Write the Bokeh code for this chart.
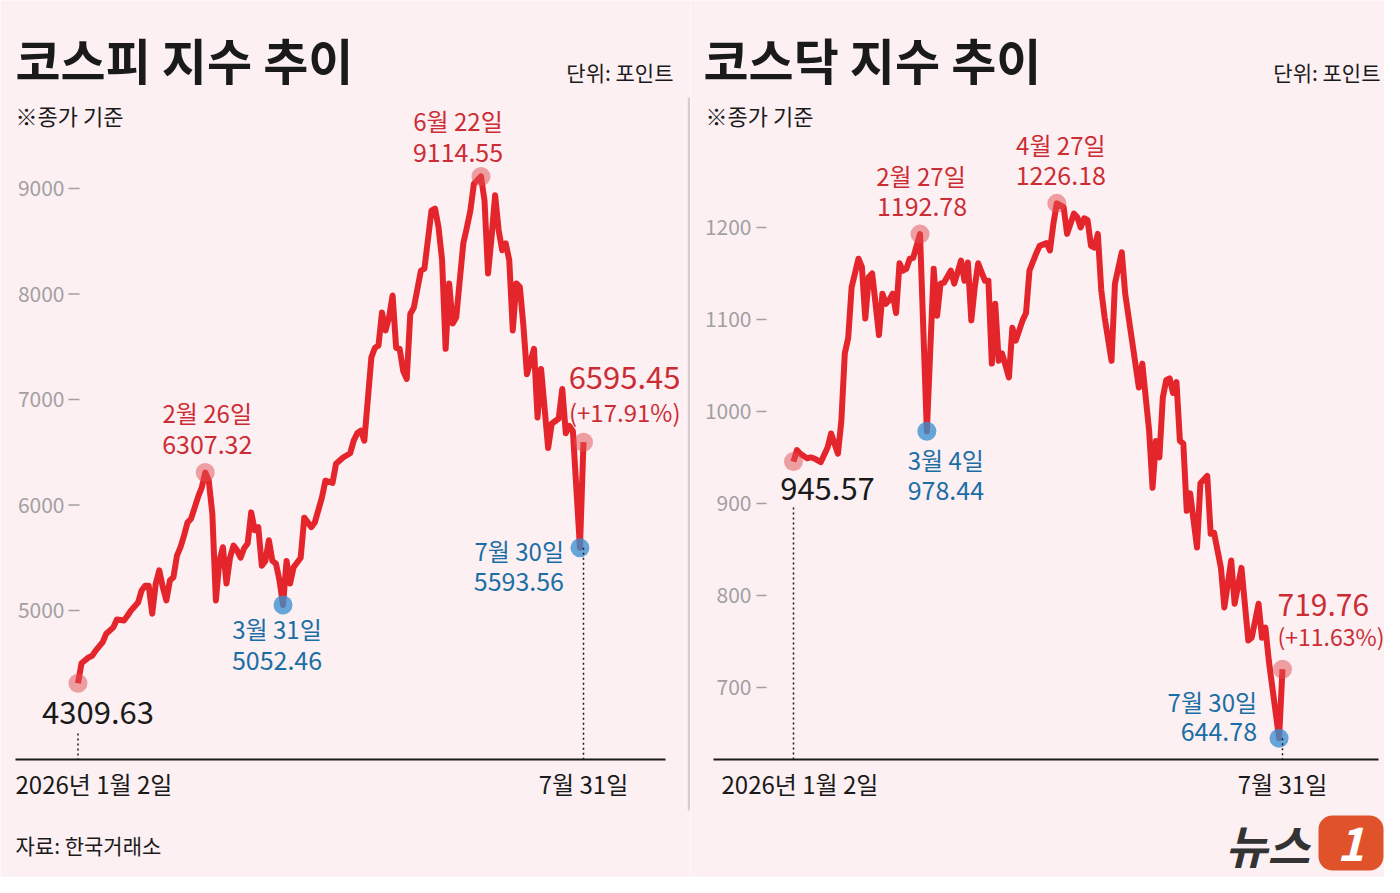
from bokeh.plotting import figure
from bokeh.models import Label, Range1d, ColumnDataSource, BoxAnnotation
from bokeh.layouts import row
from bokeh.embed import file_html
from bokeh.resources import INLINE

# trading-day number (0 = 2026-01-02, 143 = 2026-07-31) and closing index
kospi_day = [0, 1, 3, 4, 5, 7, 8, 10, 11, 13, 14, 15, 17, 18, 19, 20, 21, 22, 23, 24,
             25, 26, 27, 28, 29, 30, 31, 32, 33, 34, 35, 36, 37, 38, 39, 40, 41, 42, 43, 44,
             45, 46, 47, 48, 49, 50, 51, 52, 53, 54, 55, 56, 57, 58, 59, 60, 61, 63, 64, 66,
             67, 69, 70, 72, 73, 75, 77, 78, 79, 80, 81, 83, 84, 85, 86, 87, 88, 89, 90, 91,
             92, 93, 94, 95, 97, 98, 100, 101, 102, 103, 104, 105, 106, 107, 109, 110, 111, 112, 113, 114,
             115, 116, 117, 118, 119, 120, 121, 122, 123, 124, 125, 126, 127, 129, 130, 131, 133, 134, 136, 137,
             138, 139, 140, 142, 143]
kospi_close = [4309.63, 4500, 4555, 4570, 4620, 4700, 4780, 4840, 4915, 4905, 4950, 5000, 5075, 5190, 5235, 5235, 4970, 5255, 5380, 5220,
               5095, 5285, 5315, 5520, 5600, 5710, 5835, 5870, 5975, 6080, 6165, 6307.32, 6230, 5920, 5095, 5470, 5600, 5255, 5500, 5615,
               5570, 5500, 5590, 5635, 5930, 5760, 5790, 5425, 5470, 5665, 5470, 5445, 5285, 5052.46, 5470, 5255, 5410, 5500, 5880, 5790,
               5835, 6070, 6230, 6210, 6390, 6450, 6490, 6610, 6680, 6705, 6610, 7400, 7490, 7510, 7825, 7655, 7780, 7985, 7490, 7480,
               7270, 7195, 7810, 7870, 8220, 8240, 8790, 8810, 8630, 8320, 7480, 8100, 7720, 7780, 8480, 8630, 8790, 9045, 9080, 9114.55,
               8885, 8195, 8540, 8935, 8605, 8415, 8480, 8320, 7655, 8100, 8065, 7700, 7240, 7480, 6830, 7290, 6540, 6770, 6820, 7100,
               6680, 6750, 6700, 5593.56, 6595.45]

kosdaq_day = [0, 1, 2, 4, 5, 6, 8, 10, 11, 13, 14, 15, 16, 17, 19, 20, 21, 22, 23, 24,
              25, 26, 27, 28, 29, 30, 31, 32, 33, 34, 35, 36, 37, 39, 41, 42, 43, 44, 46, 47,
              49, 50, 51, 52, 53, 54, 56, 57, 58, 59, 60, 61, 63, 64, 65, 67, 68, 69, 71, 72,
              74, 75, 76, 77, 79, 80, 82, 83, 84, 85, 86, 87, 88, 89, 90, 91, 93, 94, 96, 97,
              99, 101, 102, 104, 105, 106, 107, 108, 109, 110, 111, 112, 113, 114, 115, 116, 118, 119, 121, 122,
              123, 125, 126, 128, 129, 131, 133, 134, 136, 137, 138, 139, 142, 143]
kosdaq_close = [945.57, 958, 954, 949, 950, 949, 945, 961, 976, 954, 990, 1063, 1080, 1135, 1166, 1157, 1101, 1146, 1150, 1117,
                1083, 1128, 1117, 1121, 1128, 1107, 1161, 1153, 1155, 1166, 1167, 1180, 1192.78, 978.44, 1155, 1104, 1139, 1140, 1153, 1139,
                1164, 1142, 1162, 1099, 1135, 1161, 1142, 1142, 1052, 1117, 1055, 1063, 1037, 1091, 1077, 1099, 1107, 1153, 1172, 1180,
                1183, 1175, 1204, 1226.18, 1222, 1193, 1215, 1211, 1200, 1210, 1208, 1180, 1178, 1193, 1132, 1102, 1055, 1139, 1173, 1128,
                1077, 1026, 1052, 979, 917, 968, 950, 1015, 1034, 1036, 1020, 1032, 968, 965, 892, 911, 852, 922, 930, 867,
                868, 830, 787, 838, 791, 830, 751, 754, 791, 754, 765, 729, 644.78, 719.76]

kospi_yticks = [5000, 6000, 7000, 8000, 9000]
kosdaq_yticks = [700, 800, 900, 1000, 1100, 1200]

# highlighted points: day, kind ("hi" red / "lo" blue)
kospi_marks = [(0, "hi"), (36, "hi"), (58, "lo"), (114, "hi"), (142, "lo"), (143, "hi")]
kosdaq_marks = [(0, "hi"), (37, "hi"), (39, "lo"), (77, "hi"), (142, "lo"), (143, "hi")]

BG = "#fcf0f3"
LINE = "#e4262c"
RED = "#cc2d34"
BLUE = "#1b6ea5"
INK = "#1a1a1a"
GRAY = "#a3a0a1"
KR = "Noto Sans CJK KR"

H = 877


def lab(p, x, y, text, color=INK, size=24, dx=0, dy=0, align="center",
        xu="data", yu="data", style="normal"):
    p.add_layout(Label(x=x, y=y, x_units=xu, y_units=yu, x_offset=dx, y_offset=dy,
                       text=text, text_color=color, text_font=KR,
                       text_font_size=f"{size}px", text_font_style=style,
                       text_align=align, text_baseline="middle"))


def put(p, x, y, text, color=INK, size=24, align="left", style="normal"):
    # x, y in pixels from the panel's top-left corner
    lab(p, x, H - y, text, color, size, align=align, xu="screen", yu="screen", style=style)


def panel(days, closes, marks, xr, yr, width):
    p = figure(width=width, height=H, x_range=Range1d(*xr), y_range=Range1d(*yr),
               x_axis_location=None, y_axis_location=None, title=None,
               output_backend="svg", toolbar_location=None,
               min_border=0)
    p.background_fill_color = BG
    p.border_fill_color = BG
    p.outline_line_color = None
    p.grid.visible = False

    src = ColumnDataSource(dict(day=days, close=closes))
    p.line("day", "close", source=src, line_color=LINE, line_width=6, line_join="round")

    lookup = dict(zip(days, closes))
    mx = [d for d, k in marks]
    my = [lookup[d] for d, k in marks]
    mc = ["#e04a50" if k == "hi" else "#3a8fd0" for d, k in marks]
    ma = [0.5 if k == "hi" else 0.78 for d, k in marks]
    p.scatter(mx, my, size=19, fill_color=mc, fill_alpha=ma, line_color=None)
    return p


def px_x(p, width, px):
    return p.x_range.start + px * (p.x_range.end - p.x_range.start) / width


def px_y(p, py):
    return p.y_range.end - py * (p.y_range.end - p.y_range.start) / H


def frame_bits(p, width, yticks, label_right, dash0, dash1, base0, base1):
    # y tick labels with short dashes, baseline
    for v in yticks:
        lab(p, label_right, v, str(v), GRAY, 21, align="right", xu="screen")
    p.segment(x0=[px_x(p, width, dash0)] * len(yticks), y0=yticks,
              x1=[px_x(p, width, dash1)] * len(yticks), y1=yticks,
              line_color=GRAY, line_width=1.5)
    yb = px_y(p, 759)
    p.segment(x0=[px_x(p, width, base0)], y0=[yb], x1=[px_x(p, width, base1)], y1=[yb],
              line_color=INK, line_width=2)
    return yb


# ---------------- KOSPI ----------------
LW = 690
left = panel(kospi_day, kospi_close, kospi_marks, (-21.92, 173.27), (2469, 10782), LW)
yb = frame_bits(left, LW, kospi_yticks, 64, 68, 79, 15, 665)
left.segment(x0=[0, 143], y0=[px_y(left, 733), kospi_close[-2]], x1=[0, 143], y1=[yb, yb],
             line_color=INK, line_width=1.5, line_dash="2 3")
# panel divider
left.segment(x0=[px_x(left, LW, 688.5)], y0=[px_y(left, 97)], x1=[px_x(left, LW, 688.5)],
             y1=[px_y(left, 810)], line_color="#d9cdd1", line_width=2.5)

put(left, 15, 58, "코스피 지수 추이", INK, 49, style="bold")
put(left, 673, 71, "단위: 포인트", INK, 21, align="right")
put(left, 15, 114, "※종가 기준", INK, 22)

lab(left, 114, 9114.55, "6월 22일", RED, 24, dx=-23, dy=56)
lab(left, 114, 9114.55, "9114.55", RED, 25, dx=-23, dy=24)
lab(left, 36, 6307.32, "2월 26일", RED, 24, dx=2, dy=60)
lab(left, 36, 6307.32, "6307.32", RED, 25, dx=2, dy=28)
lab(left, 0, 4309.63, "4309.63", INK, 31, dx=20, dy=-29)
lab(left, 58, 5052.46, "3월 31일", BLUE, 24, dx=-6, dy=-24)
lab(left, 58, 5052.46, "5052.46", BLUE, 25, dx=-6, dy=-56)
lab(left, 142, 5593.56, "7월 30일", BLUE, 24, dx=-16, dy=-3, align="right")
lab(left, 142, 5593.56, "5593.56", BLUE, 25, dx=-16, dy=-34, align="right")
lab(left, 143, 6595.45, "6595.45", RED, 31, dx=97, dy=65, align="right")
lab(left, 143, 6595.45, "(+17.91%)", RED, 24, dx=97, dy=31, align="right")

put(left, 15, 783, "2026년 1월 2일", INK, 24)
lab(left, 143, H - 783, "7월 31일", INK, 24, yu="screen")
put(left, 15, 844, "자료: 한국거래소", INK, 21)

# ---------------- KOSDAQ ----------------
RW = 694
OX = 690  # page x where the right panel starts
right = panel(kosdaq_day, kosdaq_close, kosdaq_marks, (-30.12, 172.83), (493.4, 1446.7), RW)
yb = frame_bits(right, RW, kosdaq_yticks, 751 - OX, 756 - OX, 766 - OX, 713 - OX, 1378 - OX)
right.segment(x0=[0, 143], y0=[px_y(right, 507), kosdaq_close[-2]], x1=[0, 143], y1=[yb, yb],
              line_color=INK, line_width=1.5, line_dash="2 3")

put(right, 703 - OX, 58, "코스닥 지수 추이", INK, 49, style="bold")
put(right, 1380 - OX, 71, "단위: 포인트", INK, 21, align="right")
put(right, 705 - OX, 114, "※종가 기준", INK, 22)

lab(right, 37, 1192.78, "2월 27일", RED, 24, dx=1, dy=59)
lab(right, 37, 1192.78, "1192.78", RED, 25, dx=2, dy=28)
lab(right, 77, 1226.18, "4월 27일", RED, 24, dx=4, dy=59)
lab(right, 77, 1226.18, "1226.18", RED, 25, dx=4, dy=28)
lab(right, 0, 945.57, "945.57", INK, 31, dx=34, dy=-27)
lab(right, 39, 978.44, "3월 4일", BLUE, 24, dx=19, dy=-28)
lab(right, 39, 978.44, "978.44", BLUE, 25, dx=19, dy=-59)
lab(right, 143, 719.76, "719.76", RED, 30, dx=-5, dy=64, align="left")
lab(right, 143, 719.76, "(+11.63%)", RED, 23, dx=-5, dy=33, align="left")
lab(right, 142, 644.78, "7월 30일", BLUE, 24, dx=-22, dy=37, align="right")
lab(right, 142, 644.78, "644.78", BLUE, 25, dx=-22, dy=7, align="right")

put(right, 721 - OX, 783, "2026년 1월 2일", INK, 24)
lab(right, 143, H - 783, "7월 31일", INK, 24, yu="screen")

# news agency mark
put(right, 1267 - OX, 843, "뉴스", "#333333", 46, align="center", style="bold italic")
right.add_layout(BoxAnnotation(left=1318 - OX, right=1383 - OX, top=H - 815, bottom=H - 870,
                               left_units="screen", right_units="screen",
                               top_units="screen", bottom_units="screen",
                               fill_color="#e0522a", fill_alpha=1.0, line_color=None,
                               border_radius=14))
put(right, 1350 - OX, 843, "1", "white", 46, align="center", style="bold italic")

layout = row(left, right)
open("out.html", "w").write(file_html(layout, INLINE))
